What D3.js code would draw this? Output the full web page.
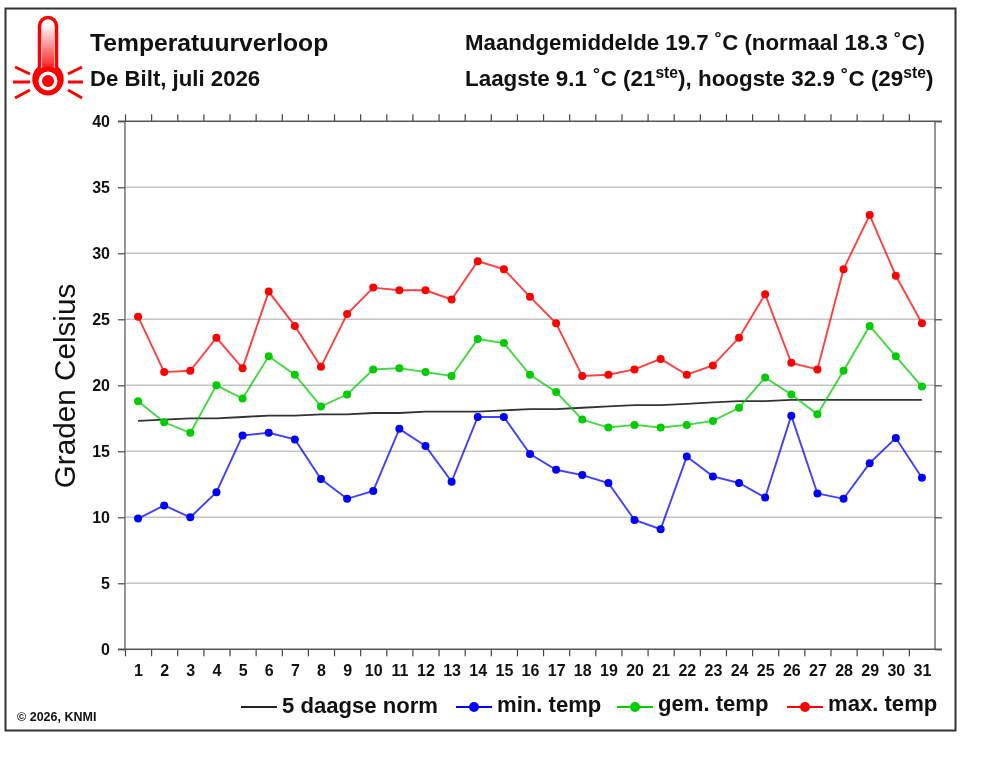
<html>

<head>
    <meta charset="UTF-8">
    <script src="https://d3js.org/d3.v7.min.js"></script>
    <title>Temperatuurverloop De Bilt</title>
    <style>
        body { margin: 0; background: white; }
        svg { display: block; filter: blur(0.45px); }
        text { font-family: "Liberation Sans", Arial, sans-serif; fill: #111; }
    </style>
</head>

<body>
    <svg width="983" height="760"></svg>

    <script>
        // waarden
        const dagen = d3.range(1, 32);
        const maxTemp = [25.2, 21.0, 21.1, 23.6, 21.3, 27.1, 24.5, 21.4, 25.4, 27.4, 27.2, 27.2, 26.5, 29.4, 28.8, 26.7,
            24.7, 20.7, 20.8, 21.2, 22.0, 20.8, 21.5, 23.6, 26.9, 21.7, 21.2, 28.8, 32.9, 28.3, 24.7];
        const gemTemp = [18.8, 17.2, 16.4, 20.0, 19.0, 22.2, 20.8, 18.4, 19.3, 21.2, 21.3, 21.0, 20.7, 23.5, 23.2, 20.8,
            19.5, 17.4, 16.8, 17.0, 16.8, 17.0, 17.3, 18.3, 20.6, 19.3, 17.8, 21.1, 24.5, 22.2, 19.9];
        const minTemp = [9.9, 10.9, 10.0, 11.9, 16.2, 16.4, 15.9, 12.9, 11.4, 12.0, 16.7, 15.4, 12.7, 17.6, 17.6, 14.8,
            13.6, 13.2, 12.6, 9.8, 9.1, 14.6, 13.1, 12.6, 11.5, 17.7, 11.8, 11.4, 14.1, 16.0, 13.0];
        const norm = [17.3, 17.4, 17.5, 17.5, 17.6, 17.7, 17.7, 17.8, 17.8, 17.9, 17.9, 18.0, 18.0, 18.0, 18.1, 18.2,
            18.2, 18.3, 18.4, 18.5, 18.5, 18.6, 18.7, 18.8, 18.8, 18.9, 18.9, 18.9, 18.9, 18.9, 18.9];
        const yTicks = [0, 5, 10, 15, 20, 25, 30, 35, 40];

        const svg = d3.select('svg');

        const links = 125, rechts = 935, boven = 121.3, onder = 649.3;
        const x = d3.scaleLinear().domain([0.5, 31.5]).range([links, rechts]);
        const y = d3.scaleLinear().domain([0, 40]).range([onder, boven]);
        const randen = dagen.map(d => d - 0.5);

        // kader om de hele figuur
        svg.append('rect')
            .attr('x', 5.5).attr('y', 8.5).attr('width', 950).attr('height', 722)
            .attr('fill', 'white').attr('stroke', '#333').attr('stroke-width', 2);

        // horizontale hulplijnen
        svg.append('g').selectAll('line')
            .data(yTicks.slice(1, -1))
            .join('line')
            .attr('x1', links).attr('x2', rechts)
            .attr('y1', d => y(d)).attr('y2', d => y(d))
            .attr('stroke', '#c4c4c4').attr('stroke-width', 1.5);

        // verticale randen van het plotvlak
        svg.append('g').selectAll('line')
            .data([links, rechts])
            .join('line')
            .attr('x1', d => d).attr('x2', d => d)
            .attr('y1', boven).attr('y2', onder)
            .attr('stroke', '#8c8c8c').attr('stroke-width', 1.8);

        // assen: streepjes op de dagranden, labels midden op de dag
        function stijl(g) {
            g.select('.domain').remove();
            g.selectAll('line').attr('stroke', '#444').attr('stroke-width', 1.2);
            g.selectAll('text').style('font-size', '16px').style('font-weight', 'bold')
                .style('font-family', '"Liberation Sans", Arial, sans-serif').attr('fill', '#222');
        }
        svg.append('g').attr('transform', `translate(0,${onder})`)
            .call(d3.axisBottom(x).tickValues(randen).tickSize(7).tickFormat(''))
            .call(stijl);
        svg.append('g').attr('transform', `translate(0,${boven})`)
            .call(d3.axisTop(x).tickValues(randen).tickSize(7).tickFormat(''))
            .call(stijl);
        svg.append('g').attr('transform', `translate(0,${onder + 10.5})`)
            .call(d3.axisBottom(x).tickValues(dagen).tickSize(0).tickPadding(5).tickFormat(d3.format('d')))
            .call(stijl);
        svg.append('g').attr('transform', `translate(${links},0)`)
            .call(d3.axisLeft(y).tickValues(yTicks).tickSize(7).tickPadding(8))
            .call(stijl);
        svg.append('g').attr('transform', `translate(${rechts},0)`)
            .call(d3.axisRight(y).tickValues(yTicks).tickSize(7).tickFormat(''))
            .call(stijl);

        // lijn over de as heen, steekt aan beide kanten iets uit
        svg.append('g').selectAll('line')
            .data([boven, onder])
            .join('line')
            .attr('x1', links - 7).attr('x2', rechts + 7)
            .attr('y1', d => d).attr('y2', d => d)
            .attr('stroke', '#555').attr('stroke-width', 1.4);

        const lijn = d3.line()
            .x((d, i) => x(dagen[i]))
            .y(d => y(d));

        // norm eerst, daarna de drie temperatuurreeksen
        svg.append('path')
            .attr('d', lijn(norm))
            .attr('fill', 'none').attr('stroke', '#333').attr('stroke-width', 1.8);

        function reeks(waarden, kleur) {
            const g = svg.append('g');
            g.append('path')
                .attr('d', lijn(waarden))
                .attr('fill', 'none')
                .attr('stroke', kleur)
                .attr('stroke-opacity', 0.75)
                .attr('stroke-width', 1.9);
            g.selectAll('circle')
                .data(waarden)
                .join('circle')
                .attr('cx', (d, i) => x(dagen[i]))
                .attr('cy', d => y(d))
                .attr('r', 4)
                .attr('fill', kleur);
        }
        reeks(minTemp, '#0000ff');
        reeks(gemTemp, '#00cc00');
        reeks(maxTemp, '#ff0000');

        // as-titel
        svg.append('text')
            .attr('transform', 'translate(75,386) rotate(-90)')
            .attr('text-anchor', 'middle')
            .style('font-size', '29.7px')
            .text('Graden Celsius');

        // kopteksten
        function kop(tx, ty, grootte, delen) {
            const t = svg.append('text').attr('x', tx).attr('y', ty)
                .style('font-size', grootte + 'px').style('font-weight', 'bold');
            delen.forEach(function (deel) {
                const s = t.append('tspan').text(deel.tekst);
                if (deel.sup) {
                    s.style('font-size', (grootte * 0.7) + 'px').attr('dy', -8);
                } else if (deel.terug) {
                    s.attr('dy', 8);
                }
            });
        }
        kop(90, 51, 24.7, [{ tekst: 'Temperatuurverloop' }]);
        kop(90, 86, 22.2, [{ tekst: 'De Bilt, juli 2026' }]);
        kop(465, 50, 22.25, [{ tekst: 'Maandgemiddelde 19.7 ˚C (normaal 18.3 ˚C)' }]);
        kop(465, 86, 22.4, [
            { tekst: 'Laagste 9.1 ˚C (21' }, { tekst: 'ste', sup: true },
            { tekst: '), hoogste 32.9 ˚C (29', terug: true }, { tekst: 'ste', sup: true },
            { tekst: ')', terug: true }
        ]);

        svg.append('text').attr('x', 17).attr('y', 721)
            .style('font-size', '12.5px').style('font-weight', 'bold').attr('fill', '#444')
            .text('© 2026, KNMI');

        // legenda
        const legendaTeksten = ['5 daagse norm', 'min. temp', 'gem. temp', 'max. temp'];
        const legendaKleuren = ['#222', '#0000ff', '#00cc00', '#ff0000'];
        const legendaX = [241, 456, 617, 787];
        const legendaY = [707, 707, 707, 707];
        const tekstY = [713, 712, 711, 711];
        legendaTeksten.forEach(function (naam, i) {
            const g = svg.append('g');
            g.append('line')
                .attr('x1', legendaX[i]).attr('x2', legendaX[i] + 36)
                .attr('y1', legendaY[i]).attr('y2', legendaY[i])
                .attr('stroke', legendaKleuren[i]).attr('stroke-width', 1.8);
            if (i > 0) {
                g.append('circle')
                    .attr('cx', legendaX[i] + 18).attr('cy', legendaY[i]).attr('r', 5)
                    .attr('fill', legendaKleuren[i]);
            }
            g.append('text')
                .attr('x', legendaX[i] + 41).attr('y', tekstY[i])
                .style('font-size', '22.1px').style('font-weight', 'bold')
                .text(naam);
        });

        // thermometer-icoon
        const rood = '#ff0000';
        const verloop = svg.append('defs').append('linearGradient')
            .attr('id', 'buis').attr('x1', 0).attr('x2', 0).attr('y1', 0).attr('y2', 1);
        verloop.append('stop').attr('offset', '0%').attr('stop-color', 'white');
        verloop.append('stop').attr('offset', '100%').attr('stop-color', rood);

        const icoon = svg.append('g');
        icoon.append('path')
            .attr('d', 'M39.5,68 V26 A8.5,8.5 0 0 1 56.5,26 V68 A14,14 0 1 1 39.5,68 Z')
            .attr('fill', 'white').attr('stroke', rood).attr('stroke-width', 3.5);
        icoon.append('rect').attr('x', 42).attr('y', 24).attr('width', 12).attr('height', 50)
            .attr('fill', 'url(#buis)');
        icoon.append('circle').attr('cx', 48).attr('cy', 81).attr('r', 12)
            .attr('fill', 'white').attr('stroke', rood).attr('stroke-width', 5);
        icoon.append('circle').attr('cx', 48).attr('cy', 81).attr('r', 6).attr('fill', rood);
        const stralen = [[15, 67, 30, 74], [13, 82, 30, 82], [15, 98, 30, 90], [68, 74, 82, 67], [68, 82, 83, 82], [68, 90, 82, 98]];
        icoon.selectAll('.straal')
            .data(stralen)
            .join('line')
            .attr('class', 'straal')
            .attr('x1', d => d[0]).attr('y1', d => d[1])
            .attr('x2', d => d[2]).attr('y2', d => d[3])
            .attr('stroke', rood).attr('stroke-width', 3);
    </script>
</body>

</html>
